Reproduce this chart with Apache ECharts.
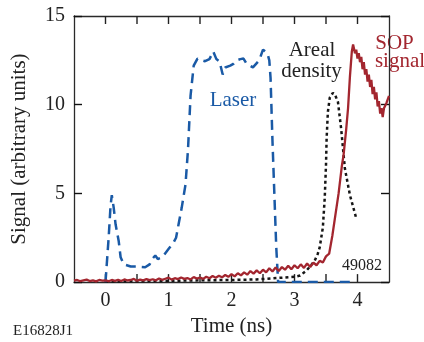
<!DOCTYPE html>
<html>
<head>
<meta charset="utf-8">
<script src="https://cdn.jsdelivr.net/npm/echarts@6/dist/echarts.min.js"></script>
<style>html,body{margin:0;padding:0;background:#fff}#c{width:424px;height:342px}</style>
</head>
<body>
<div id="c"></div>
<script>
// ---- data ----
const xTicks = [0, 1, 2, 3, 4];
const xTickMarks = [0, 0.5, 1, 1.5, 2, 2.5, 3, 3.5, 4];
const yTicks = [0, 5, 10, 15];

const laserT = [0, 0.05, 0.08, 0.1, 0.13, 0.16, 0.21, 0.24, 0.29, 0.4, 0.5, 0.63, 0.7, 0.74, 0.79, 0.83, 0.9, 1.0, 1.08, 1.12, 1.16, 1.21, 1.27, 1.31, 1.35, 1.4, 1.46, 1.53, 1.58, 1.65, 1.71, 1.76, 1.81, 1.86, 1.9, 1.98, 2.03, 2.08, 2.14, 2.19, 2.24, 2.29, 2.34, 2.39, 2.44, 2.5, 2.57, 2.6, 2.62, 2.65, 2.68, 2.71, 2.74, 3.9];
const laserY = [0, 2.5, 4.3, 4.9, 4.2, 3.26, 2.3, 1.4, 1.0, 0.88, 0.88, 0.84, 1.0, 1.3, 1.5, 1.3, 1.4, 1.86, 2.23, 2.5, 3.26, 4.2, 5.5, 7.5, 10.5, 12.2, 12.6, 12.5, 12.45, 12.57, 13.0, 12.57, 12.44, 11.7, 12.1, 12.2, 12.3, 12.5, 12.57, 12.6, 12.3, 12.2, 12.1, 12.3, 12.5, 13.1, 12.9, 12.5, 11.5, 8, 5, 2, 0, 0];

const arealT = [0, 0.5, 1.0, 1.5, 2.0, 2.4, 2.8, 3.0, 3.09, 3.19, 3.25, 3.32, 3.37, 3.4, 3.45, 3.48, 3.5, 3.51, 3.53, 3.56, 3.61, 3.65, 3.69, 3.74, 3.8, 3.88, 3.98];
const arealY = [0.03, 0.05, 0.07, 0.1, 0.12, 0.15, 0.25, 0.3, 0.37, 0.65, 0.9, 1.2, 1.6, 1.96, 3.07, 4.75, 6.6, 8.1, 9.6, 10.4, 10.67, 10.5, 10.15, 8.66, 6.4, 4.9, 3.6];

const sopT = [-0.5, -0.45, -0.4, -0.35, -0.3, -0.25, -0.2, -0.15, -0.1, -0.05,
  0, 0.05, 0.1, 0.15, 0.2, 0.25, 0.3, 0.35, 0.4, 0.45,
  0.5, 0.55, 0.6, 0.65, 0.7, 0.75, 0.8, 0.85, 0.9, 0.95,
  1.0, 1.05, 1.1, 1.15, 1.2, 1.25, 1.3, 1.35, 1.4, 1.45,
  1.5, 1.55, 1.6, 1.65, 1.7, 1.75, 1.8, 1.85, 1.9, 1.95,
  2.0, 2.05, 2.1, 2.15, 2.2, 2.25, 2.3, 2.35, 2.4, 2.45,
  2.5, 2.55, 2.6, 2.65, 2.7, 2.75, 2.8, 2.85, 2.9, 2.95,
  3.0, 3.05, 3.1, 3.15, 3.2, 3.25, 3.3, 3.35, 3.4, 3.45,
  3.5, 3.55, 3.6, 3.65, 3.7, 3.75, 3.78, 3.82, 3.85, 3.88, 3.91, 3.93,
  3.96, 3.98, 4.0, 4.02, 4.04, 4.06, 4.08, 4.1, 4.12, 4.14, 4.16, 4.18, 4.2,
  4.22, 4.24, 4.26, 4.28, 4.3, 4.32, 4.34, 4.36, 4.38, 4.4, 4.42, 4.44, 4.46, 4.48, 4.5];
const sopY = [0.08, 0.12, 0.05, 0.1, 0.14, 0.06, 0.1, 0.04, 0.12, 0.08,
  0.1, 0.05, 0.12, 0.07, 0.13, 0.06, 0.15, 0.09, 0.12, 0.18,
  0.08, 0.14, 0.1, 0.17, 0.11, 0.16, 0.1, 0.2, 0.13, 0.19,
  0.25, 0.14, 0.22, 0.17, 0.26, 0.18, 0.23, 0.15, 0.28, 0.2,
  0.26, 0.18, 0.3, 0.22, 0.34, 0.25, 0.36, 0.27, 0.4, 0.3,
  0.45, 0.32, 0.5, 0.38, 0.55, 0.42, 0.62, 0.48, 0.66, 0.5,
  0.7, 0.55, 0.78, 0.6, 0.82, 0.62, 0.85, 0.7, 0.92, 0.72,
  0.95, 0.78, 1.0, 0.8, 1.05, 0.85, 1.1, 0.95, 1.2, 1.1,
  1.45, 1.6, 2.6, 3.8, 5.0, 6.5, 7.2, 8.6, 9.8, 11.6, 13.0, 13.4,
  12.9, 13.1, 12.6, 12.9, 12.4, 12.7, 12.0, 12.4, 11.7, 12.0, 11.3, 11.7, 11.0,
  11.4, 10.6, 11.0, 10.3, 10.7, 9.9, 10.2, 9.5, 9.8, 9.3, 9.8, 9.7, 10.1, 10.0, 10.5];

const zip = (a, b) => a.map((v, i) => [v, b[i]]);

const BLUE = '#1a5aa6', RED = '#a3262f', BLACK = '#151515', AX = '#2a2a2a';
const FONT = '"Liberation Serif", "Times New Roman", serif';
const Y_MIN = 0, Y_MAX = 15;

const chart = echarts.init(document.getElementById('c'), null, {renderer: 'canvas'});

function mkX(pos, extra) {
  return Object.assign({
    type: 'value', min: -0.5, max: 4.5, interval: 0.5, position: pos,
    axisLine: {show: true, onZero: false, lineStyle: {color: AX, width: 1.3}},
    axisTick: {show: false},
    splitLine: {show: false},
    axisLabel: {show: false}
  }, extra || {});
}
function mkY(pos, extra) {
  return Object.assign({
    type: 'value', min: Y_MIN, max: Y_MAX, interval: 5, position: pos,
    axisLine: {show: true, onZero: false, lineStyle: {color: AX, width: 1.3}},
    axisTick: {show: true, inside: true, interval: 0, length: 8, lineStyle: {color: '#111111', width: 1.4}},
    splitLine: {show: false},
    axisLabel: {show: false}
  }, extra || {});
}

// x-axis tick marks (bottom and top, pointing inward), placed through the axis scale
function renderTick(params, api) {
  const v = api.value(0);
  const b = api.coord([v, Y_MIN]);
  const t = api.coord([v, Y_MAX]);
  const st = {stroke: '#222222', lineWidth: 1.4};
  return {
    type: 'group',
    children: [
      {type: 'line', shape: {x1: b[0], y1: b[1], x2: b[0], y2: b[1] - 8}, style: st},
      {type: 'line', shape: {x1: t[0], y1: t[1], x2: t[0], y2: t[1] + 8}, style: st}
    ]
  };
}

chart.setOption({
  animation: false,
  grid: {left: 74, right: 35, top: 16, bottom: 57, containLabel: false},
  xAxis: [
    mkX('bottom', {
      name: 'Time (ns)', nameLocation: 'middle', nameGap: 33,
      nameTextStyle: {fontFamily: FONT, fontSize: 21, color: '#222'},
      axisLabel: {show: true, fontFamily: FONT, fontSize: 20, color: '#222', margin: 9,
        formatter: v => xTicks.includes(v) ? String(v) : ''}
    }),
    mkX('top')
  ],
  yAxis: [
    mkY('left', {
      name: 'Signal (arbitrary units)', nameLocation: 'middle', nameGap: 44,
      nameTextStyle: {fontFamily: FONT, fontSize: 21, color: '#222'},
      axisLabel: {show: true, fontFamily: FONT, fontSize: 20, color: '#222', margin: 9,
        formatter: v => yTicks.includes(v) ? String(v) : ''}
    }),
    mkY('right')
  ],
  series: [
    {type: 'custom', name: 'ticks', data: xTickMarks.map(v => [v, Y_MIN]), encode: {x: 0, y: 1},
      renderItem: renderTick, silent: true, z: 1, clip: false},
    {type: 'line', name: 'Areal density', data: zip(arealT, arealY), showSymbol: false, symbol: 'none',
      lineStyle: {color: BLACK, width: 2.5, type: [3, 3]}, z: 2},
    {type: 'line', name: 'Laser', data: zip(laserT, laserY), showSymbol: false, symbol: 'none',
      lineStyle: {color: BLUE, width: 2.5, type: [10, 6]}, z: 3},
    {type: 'line', name: 'SOP', data: zip(sopT, sopY), showSymbol: false, symbol: 'none',
      lineStyle: {color: RED, width: 2.3}, z: 4}
  ],
  graphic: [
    {type: 'text', x: 233, y: 100, style: {text: 'Laser', fill: BLUE, font: '21px ' + FONT, textAlign: 'center', textVerticalAlign: 'middle'}},
    {type: 'text', x: 312, y: 50, style: {text: 'Areal', fill: '#222', font: '21px ' + FONT, textAlign: 'center', textVerticalAlign: 'middle'}},
    {type: 'text', x: 311.5, y: 71, style: {text: 'density', fill: '#222', font: '21px ' + FONT, textAlign: 'center', textVerticalAlign: 'middle'}},
    {type: 'text', x: 394.5, y: 43, style: {text: 'SOP', fill: RED, font: '21px ' + FONT, textAlign: 'center', textVerticalAlign: 'middle'}},
    {type: 'text', x: 400, y: 61, style: {text: 'signal', fill: RED, font: '21px ' + FONT, textAlign: 'center', textVerticalAlign: 'middle'}},
    {type: 'text', x: 362, y: 266, style: {text: '49082', fill: '#222', font: '16px ' + FONT, textAlign: 'center', textVerticalAlign: 'middle'}},
    {type: 'text', x: 13, y: 331, style: {text: 'E16828J1', fill: '#222', font: '15px ' + FONT, textAlign: 'left', textVerticalAlign: 'middle'}}
  ]
});
</script>
</body>
</html>
